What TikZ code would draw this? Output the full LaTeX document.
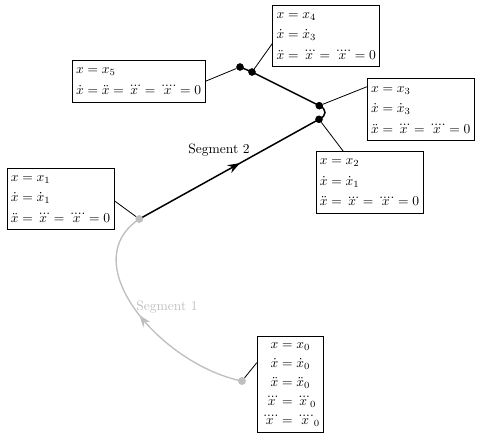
\documentclass[tikz,border=0pt]{standalone}
\usepackage{amsmath}
\usetikzlibrary{arrows.meta,decorations.markings}
\definecolor{seggray}{gray}{0.75}
\begin{document}
\begin{tikzpicture}[x=0.74pt,y=-0.74pt,
  infobox/.style={draw, line width=0.6pt, align=left, inner xsep=2.9pt, inner ysep=5.5pt},
  infoboxc/.style={infobox, align=center, inner ysep=4.5pt},
  bdot/.style={circle, fill=black, inner sep=0pt, minimum size=5.4pt},
  gdot/.style={circle, fill=seggray, inner sep=0pt, minimum size=5.6pt},
  pinline/.style={line width=0.6pt},
  trajline/.style={line width=1.1pt},
  grayline/.style={line width=1pt, seggray},
  midarrow/.style={postaction={decorate}, decoration={markings, mark=at position #1 with {\arrow{Stealth[length=9pt,width=6.5pt]}}}}
]
\useasboundingbox (0,0) rectangle (481,441);
% points
\node[gdot] (p0) at (242,381) {};
\node[gdot] (p1) at (139.3,219) {};
\node[bdot] (p2) at (319,119.3) {};
\node[bdot] (p3) at (319.3,105.7) {};
\node[bdot] (p4) at (252,72) {};
\node[bdot] (p5) at (240,67) {};
% trajectory
\draw[grayline, midarrow=0.53] (p0.center) .. controls (162,365) and (73,263) .. (p1.center);
\draw[trajline, midarrow=0.56] (p1.center) -- (p2.center);
\draw[trajline] (p2.center) .. controls (327,116) and (327,109) .. (p3.center) -- (p4.center) -- (p5.center);
% redraw dots on top
\node[gdot] at (p0) {};
\node[gdot] at (p1) {};
\node[bdot] at (p2) {};
\node[bdot] at (p3) {};
\node[bdot] at (p4) {};
\node[bdot] at (p5) {};
% labels
\node (seg2) at (219,150) {Segment 2};
\node[text=seggray] (seg1) at (167,307) {Segment 1};
% boxes
\node[infobox] (b5) at (138.6,81.3) {$x=x_5$\\[3.2pt] $\dot x=\ddot x=\dddot x=\ddddot x=0$};
\node[infobox] (b4) at (326.3,36) {$x=x_4$\\[3.2pt] $\dot x=\dot x_3$\\[3.2pt] $\ddot x=\dddot x=\ddddot x=0$};
\node[infobox] (b3) at (420.8,109.7) {$x=x_3$\\[3.2pt] $\dot x=\dot x_3$\\[3.2pt] $\ddot x=\dddot x=\ddddot x=0$};
\node[infobox] (b2) at (369.5,182.5) {$x=x_2$\\[3.2pt] $\dot x=\dot x_1$\\[3.2pt] $\ddot x=\dddot x=\ddddot x=0$};
\node[infobox] (b1) at (60.5,199) {$x=x_1$\\[3.2pt] $\dot x=\dot x_1$\\[3.2pt] $\ddot x=\dddot x=\ddddot x=0$};
\node[infoboxc] (b0) at (290.5,384.5) {$x=x_0$\\[2pt] $\dot x=\dot x_0$\\[2pt] $\ddot x=\ddot x_0$\\[2pt] $\dddot x=\dddot x_0$\\[2pt] $\ddddot x=\ddddot x_0$};
% pins
\draw[pinline] (p5) -- (b5.east);
\draw[pinline] (p4) -- (b4.188);
\draw[pinline] (p3) -- (b3.157);
\draw[pinline] (p2) -- (b2.130);
\draw[pinline] (p1) -- (b1.-2);
\draw[pinline] (p0) -- (b0.147);
\end{tikzpicture}
\end{document}
